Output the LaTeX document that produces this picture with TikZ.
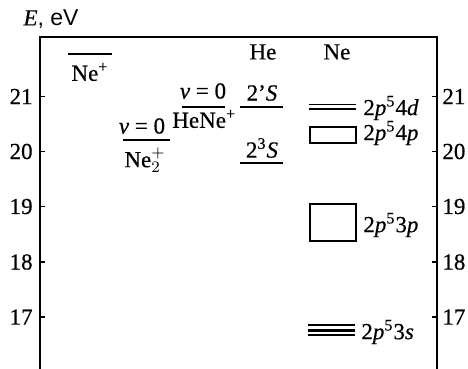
\documentclass[tikz,border=0pt]{standalone}
\usepackage{fontspec}
\setmainfont{Liberation Serif}[UprightFeatures={FakeBold=0.5}, ItalicFeatures={FakeBold=0.5}]
\newfontfamily\labelsans{Liberation Sans}
\usetikzlibrary{positioning}

\begin{document}
\begin{tikzpicture}[
    x=0.5pt, y=-0.5pt,
    font=\fontsize{11.5}{13}\selectfont,
    % Styles
    frame/.style={line width=1pt, draw=black},
    tickmark/.style={line width=0.8pt},
    level/.style={line width=0.9pt},
    term/.style={inner sep=1pt},
    ticklabel/.style={inner sep=1pt}
]
\useasboundingbox (0,0) rectangle (468,369);

% ------------------- AXES -------------------
\draw[frame] (40,369) -- (40,37) -- (437,37) -- (437,369);
\node (eaxis) at (51,19) {\textit{E}{\labelsans, eV}};

\foreach \e/\ypos in {21/96.5, 20/151.5, 19/206.5, 18/262, 17/317}{
    \draw[tickmark] (40,\ypos) -- (45,\ypos);
    \draw[tickmark] (432,\ypos) -- (437,\ypos);
    \node[ticklabel, anchor=east] (l\e) at (35,\ypos) {\e};
    \node[ticklabel, anchor=west] (r\e) at (440,\ypos) {\e};
}

% ------------------- Ne+ AND MOLECULAR IONS -------------------
\draw[level] (68,54) -- (112,54);
\node[term] (neion) at (90,72) {Ne\textsuperscript{+}};

\draw[level] (123,140) -- (170,140);
\node[term] (vnetwo) at (142,126) {\textit{v} = 0};
\node[term] (netwo) at (145,160) {Ne$^{+}_{2}$};

\draw[level] (182,107) -- (225,107);
\node[term] (vhene) at (203,91) {\textit{v} = 0};
\node[term, anchor=west] (hene) at (170,119) {HeNe\textsuperscript{+}};

% ------------------- He -------------------
\node (he) at (263,52) {He};
\draw[level] (240,107) -- (283,107);
\node[term] (hesing) at (262,93) {2'\textit{S}};
\draw[level] (240,163) -- (283,163);
\node[term] (hetrip) at (262,148) {2\textsuperscript{3}\textit{S}};

% ------------------- Ne -------------------
\node (ne) at (337,52) {Ne};
\draw[level] (309,104.5) -- (356,104.5);
\draw[level] (309,109) -- (356,109);
\node[term, anchor=west] (fourd) at (361,108) {2\textit{p}\textsuperscript{5}4\textit{d}};

\draw[level] (310,127) rectangle (356,143);
\node[term, anchor=west] (fourp) at (361,133) {2\textit{p}\textsuperscript{5}4\textit{p}};

\draw[level] (310,204) rectangle (356,241);
\node[term, anchor=west] (threep) at (361,225) {2\textit{p}\textsuperscript{5}3\textit{p}};

\draw[level] (308,325) -- (355,325);
\draw[line width=1.3pt] (308,330.5) -- (355,330.5);
\draw[line width=1.3pt] (308,335) -- (355,335);
\node[term, anchor=west] (threes) at (359,332) {2\textit{p}\textsuperscript{5}3\textit{s}};

\end{tikzpicture}
\end{document}
